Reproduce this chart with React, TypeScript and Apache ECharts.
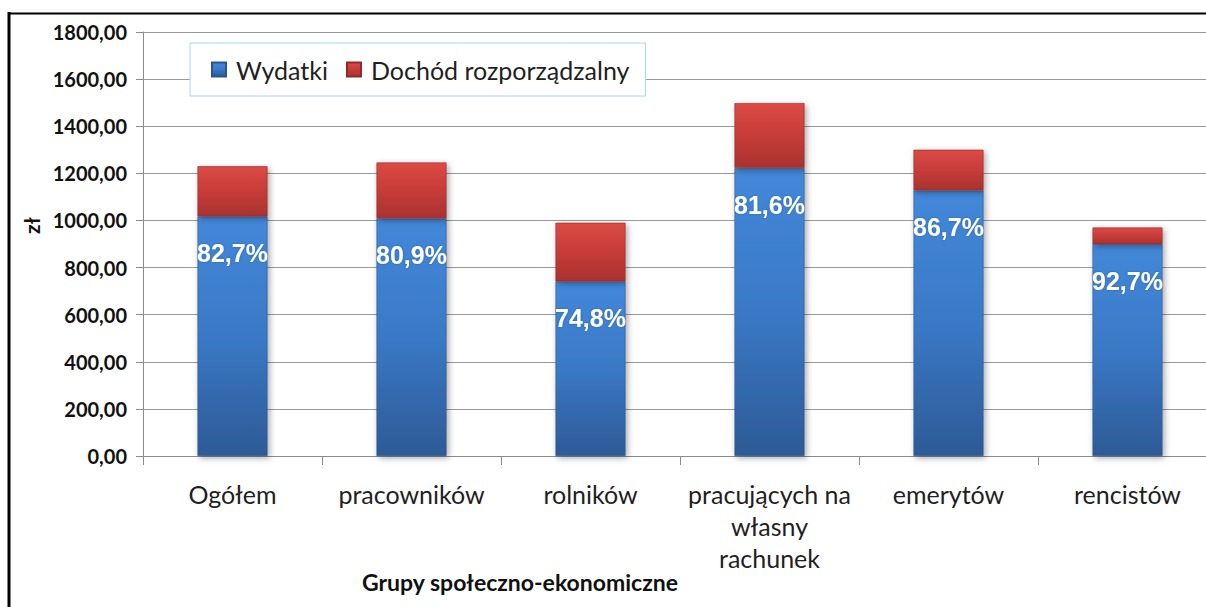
import React, { useEffect, useRef } from "react";
import * as echarts from "echarts";

const categories = ["Ogółem", "pracowników", "rolników", "pracujących na\nwłasny\nrachunek", "emerytów", "rencistów"];
const wydatki = [1017, 1008, 741, 1222, 1127, 899];
const dochod = [1230, 1246, 990, 1498, 1300, 970];
const udzial = ["82,7%", "80,9%", "74,8%", "81,6%", "86,7%", "92,7%"];
const seriesNames = ["Wydatki", "Dochód rozporządzalny"];
const yTicks = { min: 0, max: 1800, interval: 200 };

export default function App() {
  const ref = useRef<HTMLDivElement>(null);
  useEffect(() => {
    if (!ref.current) return;
    const chart = echarts.init(ref.current, null, { renderer: "svg" });
    const blue = new echarts.graphic.LinearGradient(0, 0, 0, 1, [
      { offset: 0, color: "#4388da" },
      { offset: 0.5, color: "#3a79c6" },
      { offset: 1, color: "#2d5a96" },
    ]);
    const red = new echarts.graphic.LinearGradient(0, 0, 0, 1, [
      { offset: 0, color: "#dc4a45" },
      { offset: 0.5, color: "#c73c38" },
      { offset: 1, color: "#a83230" },
    ]);
    const rest = dochod.map((d, i) => d - wydatki[i]);
    chart.setOption({
      animation: false,
      backgroundColor: "#ffffff",
      grid: { left: 143, top: 32, bottom: 151, right: 0, containLabel: false },
      legend: {
        left: 190,
        top: 43,
        orient: "horizontal",
        backgroundColor: "#ffffff",
        borderColor: "#a6d6e6",
        borderWidth: 1,
        padding: [14, 16, 14, 21],
        itemWidth: 14,
        itemHeight: 14,
        itemGap: 18,
        icon: "rect",
        textStyle: { fontFamily: "Lato", fontSize: 25, color: "#1f1f1f", padding: [0, 0, 0, 5] },
        data: seriesNames,
      },
      xAxis: {
        type: "category",
        data: categories,
        boundaryGap: true,
        axisLine: { lineStyle: { color: "#8c8c8c", width: 1 } },
        axisTick: { show: true, length: 9, lineStyle: { color: "#8c8c8c" } },
        axisLabel: {
          interval: 0,
          margin: 22,
          fontFamily: "Lato",
          fontSize: 25,
          lineHeight: 32,
          color: "#1f1f1f",
        },
      },
      yAxis: {
        type: "value",
        min: yTicks.min,
        max: yTicks.max,
        interval: yTicks.interval,
        axisLine: { show: true, lineStyle: { color: "#8c8c8c" } },
        axisTick: { show: true, length: 7, lineStyle: { color: "#8c8c8c" } },
        splitLine: { lineStyle: { color: "#9a9a9a", width: 1.2 } },
        axisLabel: {
          margin: 16,
          fontFamily: "Lato",
          fontWeight: "bold",
          fontSize: 20,
          color: "#111",
          formatter: (v: number) => v.toFixed(2).replace(".", ","),
        },
      },
      series: [
        {
          name: seriesNames[0],
          type: "bar",
          stack: "a",
          barWidth: 70,
          data: wydatki,
          itemStyle: {
            color: blue,
            borderColor: "#2a5590",
            borderWidth: 0.6,
            shadowColor: "rgba(0,0,0,0.35)",
            shadowBlur: 6,
            shadowOffsetX: 2,
            shadowOffsetY: 2,
          },
          label: {
            show: true,
            position: "insideTop",
            distance: 24,
            formatter: (p: any) => udzial[p.dataIndex],
            color: "#ffffff",
            fontFamily: "Liberation Sans",
            fontWeight: "bold",
            fontSize: 25,
            textShadowColor: "rgba(0,0,0,0.25)",
            textShadowBlur: 2,
          },
        },
        {
          name: seriesNames[1],
          type: "bar",
          stack: "a",
          barWidth: 70,
          data: rest,
          itemStyle: {
            color: red,
            borderColor: "#8f2a28",
            borderWidth: 0.6,
            shadowColor: "rgba(0,0,0,0.35)",
            shadowBlur: 6,
            shadowOffsetX: 2,
            shadowOffsetY: 2,
          },
        },
      ],
      graphic: [
        {
          type: "text",
          left: 362,
          top: 570,
          style: {
            text: "Grupy społeczno-ekonomiczne",
            fontFamily: "Lato",
            fontWeight: "bold",
            fontSize: 23,
            fill: "#111",
          },
        },
        {
          type: "text",
          x: 21,
          y: 234,
          rotation: Math.PI / 2,
          style: {
            text: "zł",
            fontFamily: "Lato",
            fontWeight: "bold",
            fontSize: 21,
            fill: "#111",
          },
        },
        {
          type: "line",
          shape: { x1: 9, y1: 12, x2: 9, y2: 607 },
          style: { stroke: "#000", lineWidth: 3 },
        },
        {
          type: "line",
          shape: { x1: 8, y1: 13.5, x2: 1218, y2: 13.5 },
          style: { stroke: "#000", lineWidth: 2 },
        },
      ],
    });
    return () => chart.dispose();
  }, []);
  return (
    <div style={{ position: "fixed", left: 0, top: 0, width: 1206, height: 607, overflow: "hidden" }}>
      <div ref={ref} style={{ width: 1217, height: 607 }} />
    </div>
  );
}
